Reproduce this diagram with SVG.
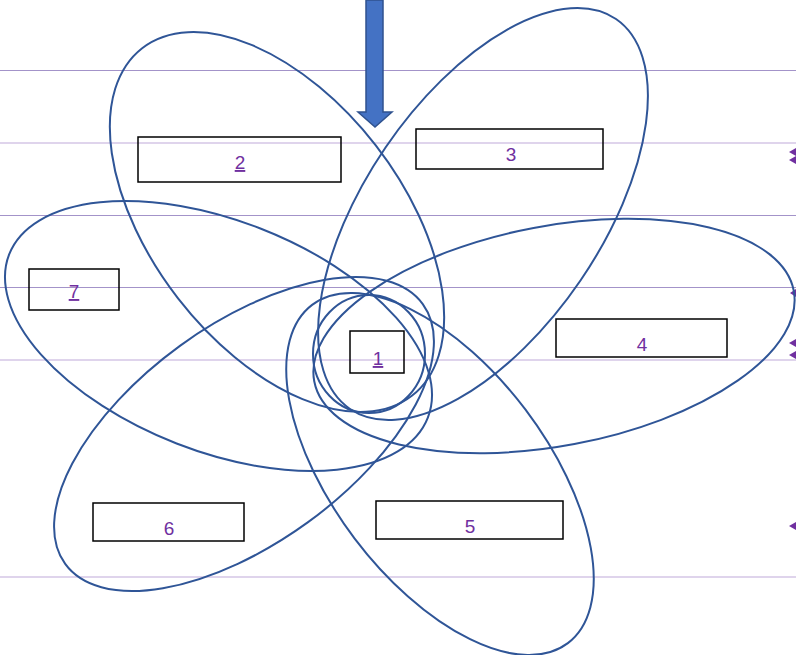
<svg xmlns="http://www.w3.org/2000/svg" width="796" height="655" viewBox="0 0 796 655">
<style>
.bg{fill:#ffffff}
.hl{stroke:#a393c9;stroke-width:1}
.hl2{stroke:#d5c6e6;stroke-width:1.5}
.pet{fill:none;stroke:#2f5597;stroke-width:2}
.box{fill:none;stroke:#000;stroke-width:1.5}
.lbl{font-family:"Liberation Sans",Arial,sans-serif;font-size:19px;fill:#7030a0;text-anchor:middle}
.u{text-decoration:underline}
.mk{fill:#7030a0}
</style>
<rect class="bg" x="0" y="0" width="796" height="655"/>
<g id="guides">
<line class="hl" x1="0" y1="70.5" x2="796" y2="70.5"/>
<line class="hl2" x1="0" y1="143" x2="796" y2="143"/>
<line class="hl" x1="0" y1="215.5" x2="796" y2="215.5"/>
<line class="hl" x1="0" y1="287.5" x2="796" y2="287.5"/>
<line class="hl2" x1="0" y1="360" x2="796" y2="360"/>
<line class="hl2" x1="0" y1="577" x2="796" y2="577"/>
</g>
<g id="markers">
<path class="mk" d="M789,152 l7,-4 v8 z"/>
<path class="mk" d="M789,160 l7,-4 v8 z"/>
<path class="mk" d="M790,293 l6,-4 v8 z"/>
<path class="mk" d="M789,343 l7,-4 v8 z"/>
<path class="mk" d="M789,355 l7,-4 v8 z"/>
<path class="mk" d="M789,526 l7,-4 v8 z"/>
</g>
<g id="connectors">
<ellipse id="petal2" class="pet" cx="277" cy="222" rx="220" ry="125" transform="rotate(52.2 277 222)"/>
<ellipse id="petal3" class="pet" cx="483" cy="214" rx="236" ry="118" transform="rotate(-55.7 483 214)"/>
<ellipse id="petal4" class="pet" cx="554" cy="336" rx="244" ry="110" transform="rotate(-10.7 554 336)"/>
<ellipse id="petal5" class="pet" cx="440" cy="474" rx="212" ry="107" transform="rotate(52.9 440 474)"/>
<ellipse id="petal6" class="pet" cx="244" cy="434" rx="221" ry="109" transform="rotate(-36 244 434)"/>
<ellipse id="petal7" class="pet" cx="218.5" cy="336" rx="224.7" ry="115.4" transform="rotate(21.3 218.5 336)"/>
<ellipse id="core" class="pet" cx="369" cy="354" rx="56" ry="59"/>
<path id="arrow" d="M366,0 H383 V112 H392 L375,127 L358,112 H366 Z" fill="#4472c4" stroke="#2f528f" stroke-width="1.5"/>
</g>
<g id="n1"><rect class="box" x="350" y="331" width="54" height="42"/><text class="lbl u" x="378" y="365">1</text></g>
<g id="n2"><rect class="box" x="138" y="137" width="203" height="45"/><text class="lbl u" x="240" y="169">2</text></g>
<g id="n3"><rect class="box" x="416" y="129" width="187" height="40"/><text class="lbl" x="511" y="161">3</text></g>
<g id="n4"><rect class="box" x="556" y="319" width="171" height="38"/><text class="lbl" x="642" y="351">4</text></g>
<g id="n5"><rect class="box" x="376" y="501" width="187" height="38"/><text class="lbl" x="470" y="533">5</text></g>
<g id="n6"><rect class="box" x="93" y="503" width="151" height="38"/><text class="lbl" x="169" y="535">6</text></g>
<g id="n7"><rect class="box" x="29" y="269" width="90" height="41"/><text class="lbl u" x="74" y="298">7</text></g>
</svg>
